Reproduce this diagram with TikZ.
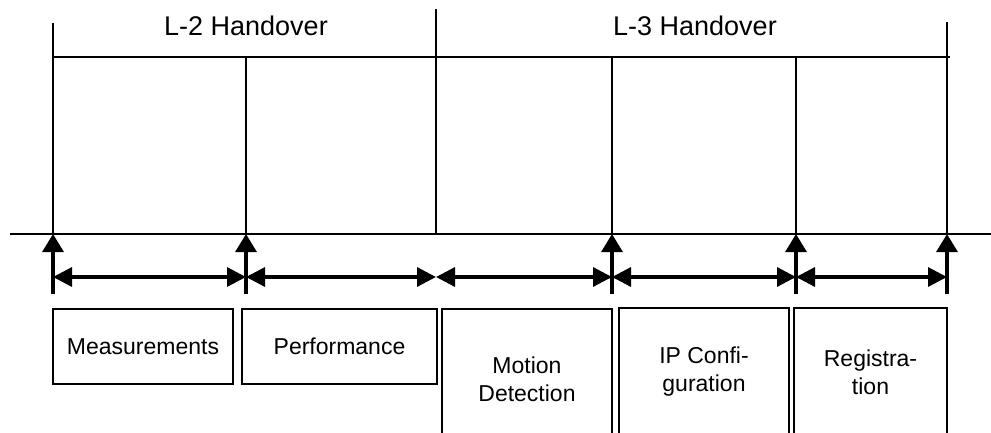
\documentclass[tikz,border=0pt]{standalone}
\usepackage{fontspec}
\setmainfont{Liberation Sans}
\usetikzlibrary{positioning}
\usetikzlibrary{arrows.meta}

\begin{document}
\begin{tikzpicture}[%
    x=1pt, y=-1pt,
    line/.style={line width=2pt},
    uparrow/.style={line width=3.2pt, -{Triangle[length=18pt,width=21pt]}},
    spanarrow/.style={line width=3.2pt, {Triangle[length=19pt,width=19pt]}-{Triangle[length=19pt,width=19pt]}},
    phasenode/.style={rectangle, align=center, draw, line width=2pt, inner sep=0pt, font=\fontsize{23}{28}\selectfont},
    title/.style={align=center, font=\fontsize{27}{32}\selectfont},
]
\useasboundingbox (0,0) rectangle (991,432);
\clip (0,0) rectangle (991,432);

% Marks on the time axis
\foreach \name/\xx/\yy in {m1/53/23, m2/246/57, m3/436/9, m4/612/57, m5/796/57, m6/947/22} {
    \coordinate (\name) at (\xx,234);
    \coordinate (\name top) at (\xx,\yy);
    \draw[line] (\name) -- (\name top);
}

% Lines
\coordinate (bar) at (950,57);
\draw[line] (m1 |- bar) -- (bar);
\coordinate (axisL) at (10,234);
\coordinate (axisR) at (991,234);
\draw[line] (axisL) -- (axisR);

% Titles
\node[title] (l2) at (246,26) {L-2 Handover};
\node[title] (l3) at (695,26) {L-3 Handover};

% Arrows
\foreach \name in {m1,m2,m4,m5,m6} {
    \draw[uparrow] ([yshift=-60pt]\name) -- (\name);
}
\foreach \a/\b in {m1/m2, m2/m3, m3/m4, m4/m5, m5/m6} {
    \draw[spanarrow] ([yshift=-43pt]\a) -- ([yshift=-43pt]\b);
}

% Phase Nodes
\node[phasenode, minimum width=180pt, minimum height=75pt]  (measure)  at (143,346.5) {Measurements};
\node[phasenode, minimum width=195pt, minimum height=75pt]  (perform)  at (339.5,346.5) {Performance};
\node[phasenode, minimum width=170pt, minimum height=140pt] (motion)   at (527,379) {Motion\\Detection};
\node[phasenode, minimum width=170pt, minimum height=128pt] (ipconfig) at (704,372) {IP Confi-\\guration};
\node[phasenode, minimum width=153pt, minimum height=128pt] (regist)   at (870.5,372) {Registra-\\tion};

\end{tikzpicture}
\end{document}
